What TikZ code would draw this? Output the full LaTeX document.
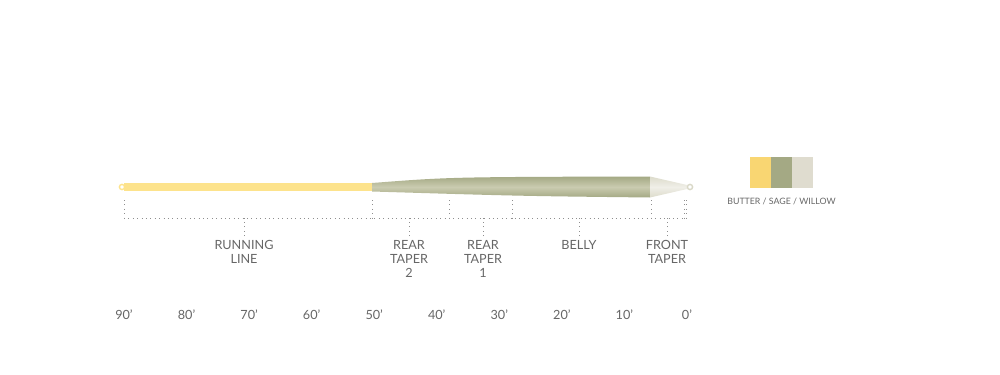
\documentclass[tikz,border=0pt]{standalone}
\usepackage{fontspec}
\setmainfont{Lato}
\usepackage{tikz}
\usetikzlibrary{positioning}

\definecolor{butter}{HTML}{FDE38C}
\definecolor{butterbox}{HTML}{F9D672}
\definecolor{sage}{HTML}{A4A984}
\definecolor{sagelight}{HTML}{CACBB0}
\definecolor{willow}{HTML}{E6E4D8}
\definecolor{willowbox}{HTML}{DFDCCF}
\definecolor{labelgray}{HTML}{666666}
\definecolor{dotgray}{HTML}{8E8E8E}

\begin{document}
\begin{tikzpicture}[%
          x=0.02cm,y=-0.02cm,
          dots/.style={dotgray,dotted,line width=0.5pt},
          part/.style={
              text=labelgray,
              font=\fontsize{7.2}{7.9}\selectfont,
              align=center,
              anchor=north,
              inner sep=0pt
            },
          feet/.style={
              text=labelgray,
              font=\fontsize{7.2}{8}\selectfont,
              inner sep=0pt
            },
          swatch/.style={minimum width=0.42cm,minimum height=0.62cm,inner sep=0pt,outer sep=0pt,anchor=north west}
        ]
        \useasboundingbox (0,0) rectangle (1000,375);

        % ライン本体
        \fill[butter] (124,183) rectangle (372,191);
        \draw[butter,line width=0.8pt,fill=white] (122,187) circle (2.6);
        \shade[top color=sage,bottom color=sage,middle color=sagelight]
          (372,183) .. controls (450,177) .. (650,176.5)
          -- (650,197.5) .. controls (520,196) .. (372,191.5) -- cycle;
        \shade[top color=willow!85!sage,bottom color=willow!85!sage,middle color=willow!60!white]
          (650,176.5) -- (687,185) -- (687,189) -- (650,197.5) -- cycle;
        \draw[willow!80!sage,line width=0.8pt,fill=white] (690,187) circle (2.6);

        % 区切りの座標
        \coordinate (start) at (124,218);
        \coordinate (end) at (687,218);
        \draw[dots] (start) -- (end);
        \foreach \x [count=\i] in {124,372,449,512,651,684,686.5}{
            \coordinate (top\i) at (\x,200);
            \draw[dots] (top\i) -- (\x,218);
          }

        % 各部の名前
        \node[part] (running) at (244,240) {RUNNING\\LINE};
        \node[part] (rear2) at (409,240) {REAR\\TAPER\\2};
        \node[part] (rear1) at (483,240) {REAR\\TAPER\\1};
        \node[part] (belly) at (579,240) {BELLY};
        \node[part] (front) at (667,240) {FRONT\\TAPER};
        \foreach \n in {running,rear2,rear1,belly,front}{
            \draw[dots] (\n.north) ++(0,-4) coordinate (\n-tick) -- (\n-tick |- end);
          }

        % 長さの目盛
        \foreach \d [count=\i from 0] in {90,80,70,60,50,40,30,20,10,0}{
            \node[feet] (ft\d) at ({124+62.55*\i},315) {\d'};
          }

        % 色見本
        \node[swatch,fill=butterbox] (butterbox) at (750,157) {};
        \node[swatch,fill=sage,right=0pt of butterbox] (sagebox) {};
        \node[swatch,fill=willowbox,right=0pt of sagebox] (willowbox) {};
        \node[text=labelgray,font=\fontsize{5}{6}\selectfont,inner sep=0pt,below=5.5pt of sagebox] (colors) {BUTTER / SAGE / WILLOW};
      \end{tikzpicture}
\end{document}
